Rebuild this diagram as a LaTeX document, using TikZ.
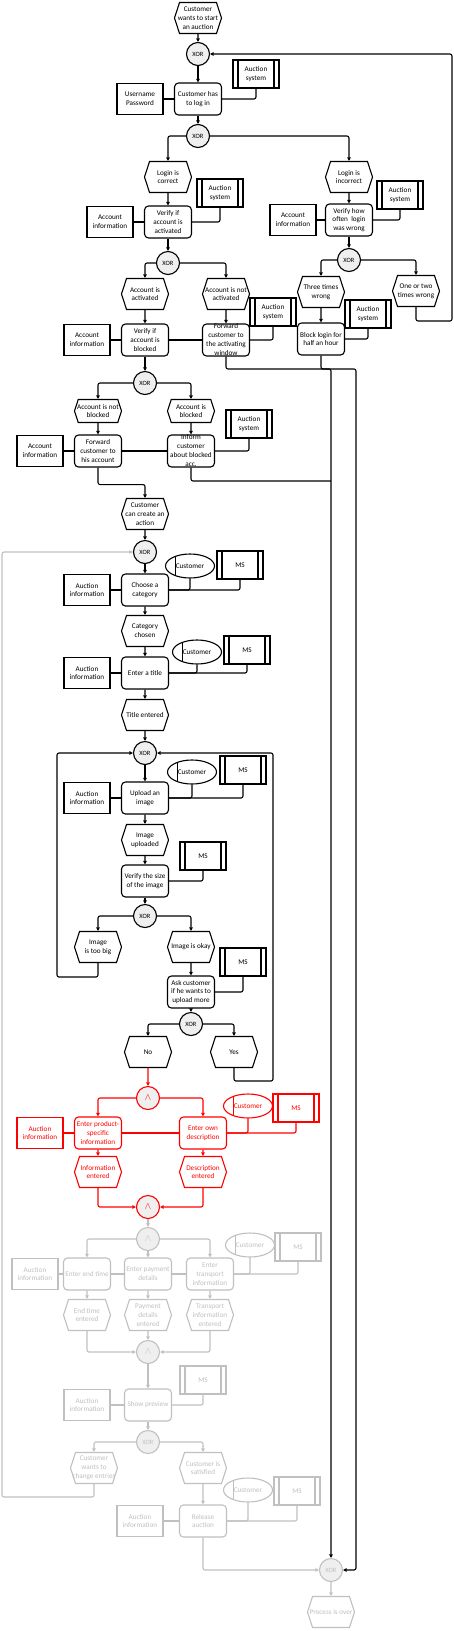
\documentclass[tikz,border=0pt]{standalone}
\usepackage{fontspec}
\setmainfont{Carlito}
\usetikzlibrary{arrows.meta,shapes.geometric,shapes.symbols}
\definecolor{gatefill}{HTML}{EFEFEF}
\definecolor{paleline}{HTML}{C0C0C0}
\newcommand\andsign{{\fontsize{10}{10}\selectfont$\wedge$}}
\newcommand\spill[1]{\raisebox{-1.8pt}[0pt][0pt]{\makebox[0pt]{\begin{tabular}{@{}c@{}}#1\end{tabular}}}}

\begin{document}
\begin{tikzpicture}[x=1pt, y=-1pt, line width=1.1pt,
  font=\fontsize{7.2}{8.8}\selectfont,
  fn/.style={draw, fill=white, rounded corners=4pt, minimum width=47pt, minimum height=32pt, inner sep=1pt, align=center},
  evt/.style={draw, fill=white, signal, signal to=east and west, signal pointer angle=144, minimum width=47pt, minimum height=31pt, inner xsep=-4pt, inner ysep=1pt, align=center},
  info/.style={draw, fill=white, minimum width=46pt, minimum height=31pt, inner sep=1pt, align=center},
  app/.style={draw, fill=white, minimum width=46pt, minimum height=28pt, inner sep=1pt, align=center,
    path picture={
      \draw ([xshift=5pt]path picture bounding box.north west) -- ([xshift=5pt]path picture bounding box.south west);
      \draw ([xshift=-5pt]path picture bounding box.north east) -- ([xshift=-5pt]path picture bounding box.south east);}},
  org/.style={draw, fill=white, ellipse, minimum width=49pt, minimum height=24pt, inner sep=0pt,
    path picture={\draw ([xshift=10pt]path picture bounding box.north west) -- ([xshift=10pt]path picture bounding box.south west);}},
  gate/.style={draw, fill=gatefill, circle, minimum size=23pt, inner sep=0pt, font=\fontsize{6.5}{7}\selectfont},
  arr/.style={-{Triangle[length=3.5pt,width=3.5pt]}, rounded corners=2pt},
  ln/.style={rounded corners=2pt}]
\useasboundingbox (0,0) rectangle (454,1631);
% login
\node[evt] (e0) at (198,18) {Customer\\wants to start\\an auction};
\node[gate] (x1) at (198,54) {XOR};
\node[fn] (f1) at (198,99) {Customer has\\to log in};
\node[info] (i1) at (140,99) {Username\\Password};
\node[app] (a1) at (256,74) {Auction\\system};
\node[gate] (x2) at (198,136) {XOR};
% login correct
\node[evt] (e1) at (168,177) {Login is\\correct};
\node[app] (a2) at (220,193) {Auction\\system};
\node[fn] (f2) at (168,222) {Verify if\\account is\\activated};
\node[info] (i2) at (110,222) {Account\\information};
\node[gate] (x3) at (168,263) {XOR};
% login incorrect
\node[evt] (e2) at (349,177) {Login is\\incorrect};
\node[app] (a3) at (400,195) {Auction\\system};
\node[fn] (f3) at (349,220) {Verify how\\often~ login\\was wrong};
\node[info] (i3) at (293,220) {Account\\information};
\node[gate] (x4) at (349,260) {XOR};
% activation
\node[evt] (e3) at (145,294) {Account is\\activated};
\node[evt] (e4) at (226,294) {Account is not\\activated};
\node[app] (a4) at (273,312) {Auction\\system};
\node[info] (i4) at (87,340) {Account\\information};
\node[fn] (f4) at (145,340) {Verify if\\account is\\blocked};
\node[fn] (f5) at (226,340) {\spill{Forward\\customer to\\the activating\\window}};
\node[evt] (e5) at (321,292) {Three times\\wrong};
\node[evt] (e6) at (416,291) {One or two\\times wrong};
\node[app] (a5) at (368,314) {Auction\\system};
\node[fn] (f6) at (321,339) {Block login for\\half an hour};
\node[gate] (x5) at (145,383) {XOR};
% blocked
\node[evt, minimum height=23pt] (e7) at (98,411) {Account is not\\blocked};
\node[evt, minimum height=23pt] (e8) at (191,411) {Account is\\blocked};
\node[app] (a6) at (249,424) {Auction\\system};
\node[info] (i5) at (40,451) {Account\\information};
\node[fn] (f7) at (98,451) {Forward\\customer to\\his account};
\node[fn] (f8) at (191,451) {\spill{Inform\\customer\\about blocked\\acc.}};
\node[evt] (e9) at (145,514) {Customer\\can create an\\action};
% category and title
\node[gate] (x6) at (145,552) {XOR};
\node[org] (o1) at (190,566) {Customer};
\node[app] (a7) at (240,565) {MS};
\node[fn] (f9) at (145,590) {Choose a\\category};
\node[info] (i6) at (87,590) {Auction\\information};
\node[evt] (e10) at (145,631) {Category\\chosen};
\node[org] (o2) at (197,652) {Customer};
\node[app] (a8) at (247,650) {MS};
\node[fn] (f10) at (145,673) {Enter a title};
\node[info] (i7) at (87,673) {Auction\\information};
\node[evt] (e11) at (145,715) {Title entered};
% image loop
\node[gate] (x7) at (145,753) {XOR};
\node[org] (o3) at (192,772) {Customer};
\node[app] (a9) at (243,770) {MS};
\node[fn] (f11) at (145,798) {Upload an\\image};
\node[info] (i8) at (87,798) {Auction\\information};
\node[evt] (e12) at (145,840) {Image\\uploaded};
\node[app] (a10) at (203,856) {MS};
\node[fn] (f12) at (145,881) {Verify the size\\of the image};
\node[gate] (x8) at (145,916) {XOR};
\node[evt] (e13) at (98,947) {Image\\is too big};
\node[evt] (e14) at (191,947) {Image is okay};
\node[app] (a11) at (243,962) {MS};
\node[fn] (f13) at (191,992) {Ask customer\\if he wants to\\upload more};
\node[gate] (x9) at (191,1024) {XOR};
\node[evt] (e15) at (148,1052) {No};
\node[evt] (e16) at (234,1052) {Yes};
\coordinate (back) at (452,321);
\coordinate (j1) at (331,369);
\coordinate (j2) at (356,369);
\coordinate (j3) at (331,481);
\coordinate (lp1) at (57,977);
\coordinate (lp2) at (273,1081);
\coordinate (lp3) at (2,1497);
% connectors, login part
\draw[arr] (e0) -- (x1);
\draw[arr] (x1) -- (f1);
\draw (i1) -- (f1);
\draw[ln] (f1.east) -| (a1.south);
\draw[arr] (f1) -- (x2);
\draw[arr] (x2.west) -| (e1.north);
\draw[arr] (x2.east) -| (e2.north);
\draw[arr] (e1) -- (f2);
\draw (i2) -- (f2);
\draw[ln] (f2.east) -| (a2.south);
\draw[arr] (f2) -- (x3);
\draw[arr] (e2) -- (f3);
\draw (i3) -- (f3);
\draw[ln] (f3.east) -| (a3.south);
\draw[arr] (f3) -- (x4);
\draw[arr] (x3.west) -| (e3.north);
\draw[arr] (x3.east) -| (e4.north);
\draw[arr] (x4.west) -| (e5.north);
\draw[arr] (x4.east) -| (e6.north);
\draw[arr] (e3) -- (f4);
\draw[arr] (e4) -- (f5);
\draw (i4) -- (f4) (f4) -- (f5);
\draw[ln] (f5.east) -| (a4.south);
\draw[arr] (e5) -- (f6);
\draw[ln] (f6.east) -| (a5.south);
\draw[arr] (e6.south) |- (back) |- (x1.east);
\draw[arr] (f4) -- (x5);
\draw[arr] (x5.west) -| (e7.north);
\draw[arr] (x5.east) -| (e8.north);
\draw[arr] (e7) -- (f7);
\draw[arr] (e8) -- (f8);
\draw (i5) -- (f7) (f7) -- (f8);
\draw[ln] (f8.east) -| (a6.south);
\draw[arr] (f7.south) -- ++(0,17) -| (e9.north);
\draw[ln] (f8.south) |- (j3);
% connectors, auction part
\draw[arr] (e9) -- (x6);
\draw[arr] (x6) -- (f9);
\draw (i6) -- (f9);
\draw[ln] (f9.east) -| (o1.south);
\draw[ln] (f9.east) -| (a7.south);
\draw[arr] (f9) -- (e10);
\draw[arr] (e10) -- (f10);
\draw (i7) -- (f10);
\draw[ln] (f10.east) -| (o2.south);
\draw[ln] (f10.east) -| (a8.south);
\draw[arr] (f10) -- (e11);
\draw[arr] (e11) -- (x7);
\draw[arr] (x7) -- (f11);
\draw (i8) -- (f11);
\draw[ln] (f11.east) -| (o3.south);
\draw[ln] (f11.east) -| (a9.south);
\draw[arr] (f11) -- (e12);
\draw[arr] (e12) -- (f12);
\draw[ln] (f12.east) -| (a10.south);
\draw[arr] (f12) -- (x8);
\draw[arr] (x8.west) -| (e13.north);
\draw[arr] (x8.east) -| (e14.north);
\draw[arr] (e13.south) |- (lp1) |- (x7.west);
\draw[arr] (e14) -- (f13);
\draw[ln] (f13.east) -| (a11.south);
\draw[arr] (f13) -- (x9);
\draw[arr] (x9.west) -| (e15.north);
\draw[arr] (x9.east) -| (e16.north);
\draw[arr] (e16.south) |- (lp2) |- (x7.east);
% current step
\begin{scope}[color=red]
\node[gate] (x10) at (148,1098) {\andsign};
\node[info] (i9) at (40,1133) {Auction\\information};
\node[fn] (f14) at (98,1133) {Enter product-\\specific\\information};
\node[fn] (f15) at (203,1133) {Enter own\\description};
\node[org] (o4) at (248,1106) {Customer};
\node[app] (a12) at (296,1108) {MS};
\node[evt] (e17) at (98,1172) {Information\\entered};
\node[evt] (e18) at (203,1172) {Description\\entered};
\node[gate] (x11) at (148,1207) {\andsign};
\draw[arr] (e15) -- (x10);
\draw[arr] (x10.west) -| (f14.north);
\draw[arr] (x10.east) -| (f15.north);
\draw (i9) -- (f14) (f14) -- (f15);
\draw[ln] (f15.east) -| (o4.south);
\draw[ln] (f15.east) -| (a12.south);
\draw[arr] (f14) -- (e17);
\draw[arr] (f15) -- (e18);
\draw[arr] (e17.south) |- (x11.west);
\draw[arr] (e18.south) |- (x11.east);
\end{scope}
% later steps
\begin{scope}[color=paleline]
\node[gate] (x12) at (148,1239) {\andsign};
\node[info] (i10) at (35,1274) {Auction\\information};
\node[fn] (f16) at (87,1274) {Enter end time};
\node[fn] (f17) at (148,1274) {Enter payment\\details};
\node[fn] (f18) at (210,1274) {Enter\\transport\\information};
\node[org] (o5) at (250,1245) {Customer};
\node[app] (a13) at (298,1247) {MS};
\node[evt] (e19) at (87,1315) {End time\\entered};
\node[evt] (e20) at (148,1315) {Payment\\details\\entered};
\node[evt] (e21) at (210,1315) {Transport\\information\\entered};
\node[gate] (x13) at (148,1352) {\andsign};
\node[app] (a14) at (203,1380) {MS};
\node[fn] (f19) at (148,1405) {Show preview};
\node[info] (i11) at (87,1405) {Auction\\information};
\node[gate] (x14) at (148,1442) {XOR};
\node[evt] (e22) at (94,1468) {Customer\\wants to\\change entries};
\node[evt] (e23) at (203,1468) {Customer is\\satisfied};
\node[org] (o6) at (248,1490) {Customer};
\node[app] (a15) at (297,1491) {MS};
\node[fn] (f20) at (203,1521) {Release\\auction};
\node[info] (i12) at (140,1521) {Auction\\information};
\node[gate] (xe) at (331,1570) {XOR};
\node[evt] (e24) at (331,1612) {Process is over};
\draw[arr] (x11) -- (x12);
\draw[arr] (x12.west) -| (f16.north);
\draw[arr] (x12) -- (f17);
\draw[arr] (x12.east) -| (f18.north);
\draw (i10) -- (f16) (f16) -- (f17) (f17) -- (f18);
\draw[ln] (f18.east) -| (o5.south);
\draw[ln] (f18.east) -| (a13.south);
\draw[arr] (f16) -- (e19);
\draw[arr] (f17) -- (e20);
\draw[arr] (f18) -- (e21);
\draw[arr] (e19.south) |- (x13.west);
\draw[arr] (e20) -- (x13);
\draw[arr] (e21.south) |- (x13.east);
\draw[arr] (x13) -- (f19);
\draw (i11) -- (f19);
\draw[ln] (f19.east) -| (a14.south);
\draw[arr] (f19) -- (x14);
\draw[arr] (x14.west) -| (e22.north);
\draw[arr] (x14.east) -| (e23.north);
\draw[arr] (e22.south) |- (lp3) |- (x6.west);
\draw[arr] (e23) -- (f20);
\draw (i12) -- (f20);
\draw[ln] (f20.east) -| (o6.south);
\draw[ln] (f20.east) -| (a15.south);
\draw[arr] (f20.south) |- (xe.west);
\draw[arr] (xe) -- (e24);
\end{scope}
% exits to the end
\draw[arr] (f5.south) |- (j1) -- (xe.north);
\draw[arr] (f6.south) |- (j2) |- (xe.east);
\end{tikzpicture}
\end{document}
